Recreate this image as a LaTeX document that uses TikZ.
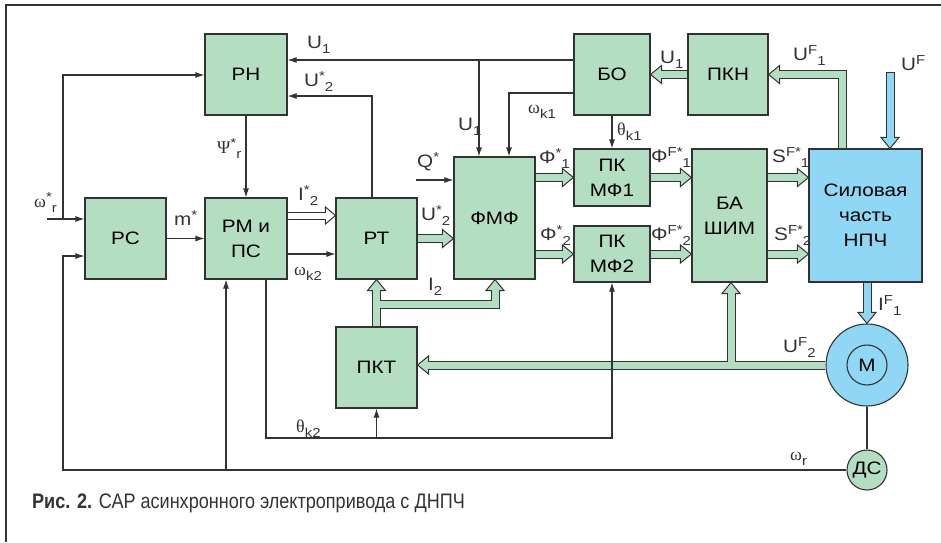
\documentclass[tikz,border=0pt]{standalone}
\usepackage{fontspec}
\setmainfont{Liberation Sans}[FakeStretch=1.15]
\newfontfamily\grk{Liberation Serif}
\newfontfamily\capfont{Liberation Sans}[FakeStretch=0.86]
\usetikzlibrary{arrows.meta,calc}
\definecolor{gr}{HTML}{B4DEC2}
\definecolor{bl}{HTML}{8FD7F5}
\definecolor{dk}{HTML}{333333}
\newcommand\sps[1]{\raisebox{5.5pt}{\fontsize{13}{13}\selectfont #1}}
\newcommand\sbs[1]{\raisebox{-5.5pt}{\fontsize{13}{13}\selectfont #1}}
\newcommand\hd[3]{\filldraw[fill=#1,draw=dk,line width=1pt,line join=miter,shift={#2},rotate=#3] (0,0) -- (-11,9) -- (-11,-9) -- cycle;}
\newcommand\hdw[3]{\filldraw[fill=#1,draw=dk,line width=1pt,line join=miter,shift={#2},rotate=#3] (0,0) -- (-10,8.5) -- (-10,-8.5) -- cycle;}
\begin{document}
\begin{tikzpicture}[x=1pt,y=-1pt,
  blk/.style={draw=dk, line width=1.1pt, fill=gr, inner sep=0pt, align=center, font=\fontsize{18}{25}\selectfont},
  ln/.style={draw=dk, line width=1.1pt},
  ar/.style={ln, -{Latex[length=9pt,width=6pt]}},
  outs/.style={draw=dk, line width=9pt, shorten >=10pt},
  ins/.style={draw=#1, line width=7pt, shorten >=9pt},
  lb/.style={anchor=base west, inner sep=0pt, font=\fontsize{18}{18}\selectfont, text=dk}]
\useasboundingbox (0,0) rectangle (941,542);
\draw[dk, line width=1.2pt] (6,542) -- (6,5) -- (941,5);

% blocks
\node[blk, minimum width=82pt, minimum height=81pt] (RN) at (246,74.5) {РН};
\node[blk, minimum width=81pt, minimum height=81pt] (RS) at (125.5,238.5) {РС};
\node[blk, minimum width=82pt, minimum height=81pt] (RM) at (246,238.5) {РМ и\\ПС};
\node[blk, minimum width=81pt, minimum height=81pt] (RT) at (376.5,238.5) {РТ};
\node[blk, minimum width=81pt, minimum height=122pt] (FMF) at (494.5,218) {ФМФ};
\node[blk, minimum width=76pt, minimum height=81pt] (BO) at (612,74.5) {БО};
\node[blk, minimum width=80pt, minimum height=81pt] (PKN) at (728,74.5) {ПКН};
\node[blk, minimum width=76pt, minimum height=57pt] (PK1) at (612,177.5) {ПК\\МФ1};
\node[blk, minimum width=76pt, minimum height=56pt] (PK2) at (612,254) {ПК\\МФ2};
\node[blk, minimum width=75pt, minimum height=133pt] (BA) at (729.5,215.5) {БА\\ШИМ};
\node[blk, fill=bl, minimum width=113pt, minimum height=133pt] (SIL) at (865.5,215.5) {Силовая\\часть\\НПЧ};
\node[blk, minimum width=81pt, minimum height=81pt] (PKT) at (376.5,367.5) {ПКТ};
\node[blk, fill=bl, circle, minimum size=82pt] (M) at (867,365) {};
\node[blk, fill=bl, circle, minimum size=40pt] (Min) at (M.center) {М};
\node[blk, circle, minimum size=40pt] (DS) at (867,470) {ДС};

% helper coordinates
\coordinate (c842) at (842,0);
\coordinate (c305) at (0,304.5);
\coordinate (c495) at (495,0);
\coordinate (c731) at (731,0);
\coordinate (cUF) at (890,72);
\coordinate (c215) at (0,215.5);
\coordinate (c60) at (0,60);
\coordinate (c479) at (479,0);
\coordinate (c372) at (372,0);
\coordinate (c96) at (0,96);
\coordinate (c93) at (0,93);
\coordinate (c509) at (509,0);
\coordinate (cQ) at (416,180);
\coordinate (c254) at (0,254);
\coordinate (cW) at (47,219);
\coordinate (c63) at (63,0);
\coordinate (c75) at (0,75);
\coordinate (c256) at (0,256);
\coordinate (c226) at (226,0);
\coordinate (c266) at (266,0);
\coordinate (c612) at (612,0);
\coordinate (c438) at (0,438);
\coordinate (jI2) at (PKT.north |- c305);
\coordinate (jU2) at (c731 |- M.west);

% hollow arrows: outer pass
\draw[outs] (PKN.west) -- (BO.east);
\draw[outs] (SIL.north -| c842) |- (PKN.east);
\draw[outs] (RT.east) -- (FMF.west |- RT.east);
\draw[outs] (FMF.east |- PK1.west) -- (PK1.west);
\draw[outs] (FMF.east |- PK2.west) -- (PK2.west);
\draw[outs] (PK1.east) -- (BA.west |- PK1.east);
\draw[outs] (PK2.east) -- (BA.west |- PK2.east);
\draw[outs] (BA.east |- PK1.east) -- (SIL.west |- PK1.east);
\draw[outs] (BA.east |- PK2.east) -- (SIL.west |- PK2.east);
\draw[outs] (PKT.north) -- (RT.south);
\draw[outs] (jI2) -| (FMF.south -| c495);
\draw[outs] (M.west) -- (PKT.east |- M.west);
\draw[outs] (jU2) -- (BA.south -| c731);
\draw[outs] (cUF) -- (SIL.north -| cUF);
\draw[outs] (M.north |- SIL.south) -- (M.north);
\draw[outs, line width=8pt] (RM.east |- c215) -- (RT.west |- c215);

% heads
\hd{gr}{(BO.east)}{180}
\hd{gr}{(PKN.east)}{180}
\hd{gr}{(FMF.west |- RT.east)}{0}
\hd{gr}{(PK1.west)}{0}
\hd{gr}{(PK2.west)}{0}
\hd{gr}{(BA.west |- PK1.east)}{0}
\hd{gr}{(BA.west |- PK2.east)}{0}
\hd{gr}{(SIL.west |- PK1.east)}{0}
\hd{gr}{(SIL.west |- PK2.east)}{0}
\hd{gr}{(RT.south)}{90}
\hd{gr}{(FMF.south -| c495)}{90}
\hd{gr}{(PKT.east |- M.west)}{180}
\hd{gr}{(BA.south -| c731)}{90}
\hd{bl}{(SIL.north -| cUF)}{-90}
\hd{bl}{(M.north)}{-90}
\hdw{white}{(RT.west |- c215)}{0}

% hollow arrows: inner pass
\draw[ins=gr] (PKN.west) -- (BO.east);
\draw[ins=gr] (SIL.north -| c842) |- (PKN.east);
\draw[ins=gr] (RT.east) -- (FMF.west |- RT.east);
\draw[ins=gr] (FMF.east |- PK1.west) -- (PK1.west);
\draw[ins=gr] (FMF.east |- PK2.west) -- (PK2.west);
\draw[ins=gr] (PK1.east) -- (BA.west |- PK1.east);
\draw[ins=gr] (PK2.east) -- (BA.west |- PK2.east);
\draw[ins=gr] (BA.east |- PK1.east) -- (SIL.west |- PK1.east);
\draw[ins=gr] (BA.east |- PK2.east) -- (SIL.west |- PK2.east);
\draw[ins=gr] (PKT.north) -- (RT.south);
\draw[ins=gr] (jI2) -| (FMF.south -| c495);
\draw[ins=gr] (M.west) -- (PKT.east |- M.west);
\draw[ins=gr] (jU2) -- (BA.south -| c731);
\draw[ins=bl, shorten <=1pt] (cUF) -- (SIL.north -| cUF);
\draw[ins=bl] (M.north |- SIL.south) -- (M.north);
\draw[ins=white, line width=6pt, shorten >=8pt] (RM.east |- c215) -- (RT.west |- c215);

% thin connectors
\draw[ar] (BO.west |- c60) -- (RN.east |- c60);
\draw[ar] (c479 |- c60) -- (FMF.north -| c479);
\draw[ar] (RT.north -| c372) |- (RN.east |- c96);
\draw[ar] (BO.west |- c93) -| (FMF.north -| c509);
\draw[ar] (BO.south) -- (PK1.north);
\draw[ar] (cQ) -- (FMF.west |- cQ);
\draw[ar] (RN.south) -- (RM.north);
\draw[ar] (RS.east) -- (RM.west);
\draw[ar] (RM.east |- c254) -- (RT.west |- c254);
\draw[ar] (cW) -- (RS.west |- cW);
\draw[ar] (c63 |- cW) |- (RN.west |- c75);
\draw[ar] (DS.west) -| (c63 |- c256) -- (RS.west |- c256);
\draw[ar] (c226 |- DS.west) -- (RM.south -| c226);
\draw[ar] (RM.south -| c266) |- (c612 |- c438) -- (PK2.south);
\draw[ar] (PKT.south |- c438) -- (PKT.south);
\draw[ln] (M.south) -- (DS.north);

% labels
\node[lb] (l1) at (307,48) {U\sbs{1}};
\node[lb] (l2) at (304,86) {U\sps{*}\sbs{2}};
\node[lb] (l3) at (458,130) {U\sbs{1}};
\node[lb] (l4) at (528,113) {{\grk ω}\sbs{k1}};
\node[lb] (l5) at (417,167) {Q\sps{*}};
\node[lb] (l6) at (539,163) {Φ\sps{*}\sbs{1}};
\node[lb] (l7) at (617,135) {{\grk θ}\sbs{k1}};
\node[lb] (l8) at (660,63) {U\sbs{1}};
\node[lb] (l9) at (793,60) {U\sps{F}\sbs{1}};
\node[lb] (l10) at (901,70) {U\sps{F}};
\node[lb] (l11) at (651,162) {Φ\sps{F*}\sbs{1}};
\node[lb] (l12) at (772,162) {S\sps{F*}\sbs{1}};
\node[lb] (l13) at (217,153) {{\grk Ψ}\sps{*}\sbs{r}};
\node[lb] (l14) at (298,200) {I\sps{*}\sbs{2}};
\node[lb] (l15) at (34,207) {{\grk ω}\sps{*}\sbs{r}};
\node[lb] (l16) at (174,225) {m\sps{*}};
\node[lb] (l17) at (294,275) {{\grk ω}\sbs{k2}};
\node[lb] (l18) at (421,220) {U\sps{*}\sbs{2}};
\node[lb] (l19) at (540,240) {Φ\sps{*}\sbs{2}};
\node[lb] (l20) at (651,240) {Φ\sps{F*}\sbs{2}};
\node[lb] (l21) at (774,240) {S\sps{F*}\sbs{2}};
\node[lb] (l22) at (428,290) {I\sbs{2}};
\node[lb] (l23) at (878,310) {I\sps{F}\sbs{1}};
\node[lb] (l24) at (783,352) {U\sps{F}\sbs{2}};
\node[lb] (l25) at (296,432) {{\grk θ}\sbs{k2}};
\node[lb] (l26) at (790,460) {{\grk ω}\sbs{r}};

\node[anchor=base west, inner sep=0pt, text=dk] (cap) at (32,508) {\capfont\fontsize{21}{21}\selectfont\textbf{Рис. 2.} САР асинхронного электропривода с ДНПЧ};
\end{tikzpicture}
\end{document}
